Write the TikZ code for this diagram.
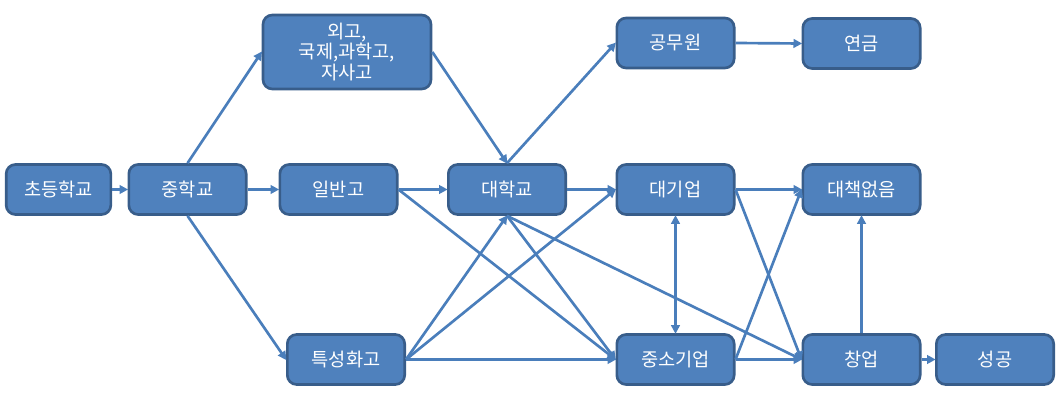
\documentclass[tikz,border=0pt]{standalone}
\usepackage{fontspec}
\setmainfont{Noto Sans CJK KR}
\usepackage{xcolor}
\usetikzlibrary{shapes, arrows.meta, positioning, calc}

\definecolor{boxfill}{HTML}{4F81BD}
\definecolor{boxline}{HTML}{385D8A}
\definecolor{arrowline}{HTML}{4A7EBB}

\begin{document}
\begin{tikzpicture}[x=0.75pt, y=-0.75pt,
  box/.style={rectangle, rounded corners=7pt, draw=boxline, line width=2pt, fill=boxfill,
    text=white, minimum width=88pt, minimum height=37.5pt, align=center,
    font=\fontsize{14}{15.5}\selectfont},
  link/.style={-{Triangle[length=6.5pt,width=6.5pt]}, draw=arrowline, line width=2pt, shorten >=-0.5pt}]

\useasboundingbox (0,0) rectangle (1061,399);

% schools
\node[box, minimum width=78.5pt] (cho) at (58.5,189.5) {초등학교};
\node[box] (jung) at (187.5,189.5) {중학교};
\node[box, minimum width=126pt, minimum height=55.5pt] (oego) at (347,52) {외고,\\국제,과학고,\\자사고};
\node[box] (ilban) at (338.5,189.5) {일반고};
\node[box] (teuk) at (346,359.5) {특성화고};
\node[box] (dae) at (507,189.5) {대학교};

% jobs
\node[box] (gong) at (675.5,43) {공무원};
\node[box] (yeon) at (861.5,43.5) {연금};
\node[box] (daegi) at (675.5,189.5) {대기업};
\node[box] (daech) at (861.5,189.5) {대책없음};
\node[box] (jungso) at (675.5,359.5) {중소기업};
\node[box] (chang) at (861.5,359.5) {창업};
\node[box] (seong) at (995,359.5) {성공};

\draw[link] (cho.east) -- (jung.west);
\draw[link] (jung.north) -- (oego.west);
\draw[link] (jung.east) -- (ilban.west);
\draw[link] (jung.south) -- (teuk.west);
\draw[link] (oego.east) -- (dae.north);
\draw[link] (ilban.east) -- (dae.west);
\draw[link] (ilban.east) -- (jungso.west);
\draw[link] (dae.north) -- (gong.west);
\draw[link] (gong.east) -- (yeon.west);
\draw[link] (dae.east) -- (daegi.west);
\draw[link] (daegi.east) -- (daech.west);
\draw[link] (dae.south) -- (jungso.west);
\draw[link] (dae.south) -- (chang.west);
\draw[link] (teuk.east) -- (dae.south);
\draw[link] (teuk.east) -- (daegi.west);
\draw[link] (teuk.east) -- (jungso.west);
\draw[link, {Triangle[length=6.5pt,width=6.5pt]}-{Triangle[length=6.5pt,width=6.5pt]}, shorten <=-0.5pt] (daegi.south) -- (jungso.north);
\draw[link] (daegi.east) -- (chang.west);
\draw[link] (jungso.east) -- (daech.west);
\draw[link] (jungso.east) -- (chang.west);
\draw[link] (chang.north) -- (daech.south);
\draw[link] (chang.east) -- (seong.west);

\end{tikzpicture}
\end{document}
